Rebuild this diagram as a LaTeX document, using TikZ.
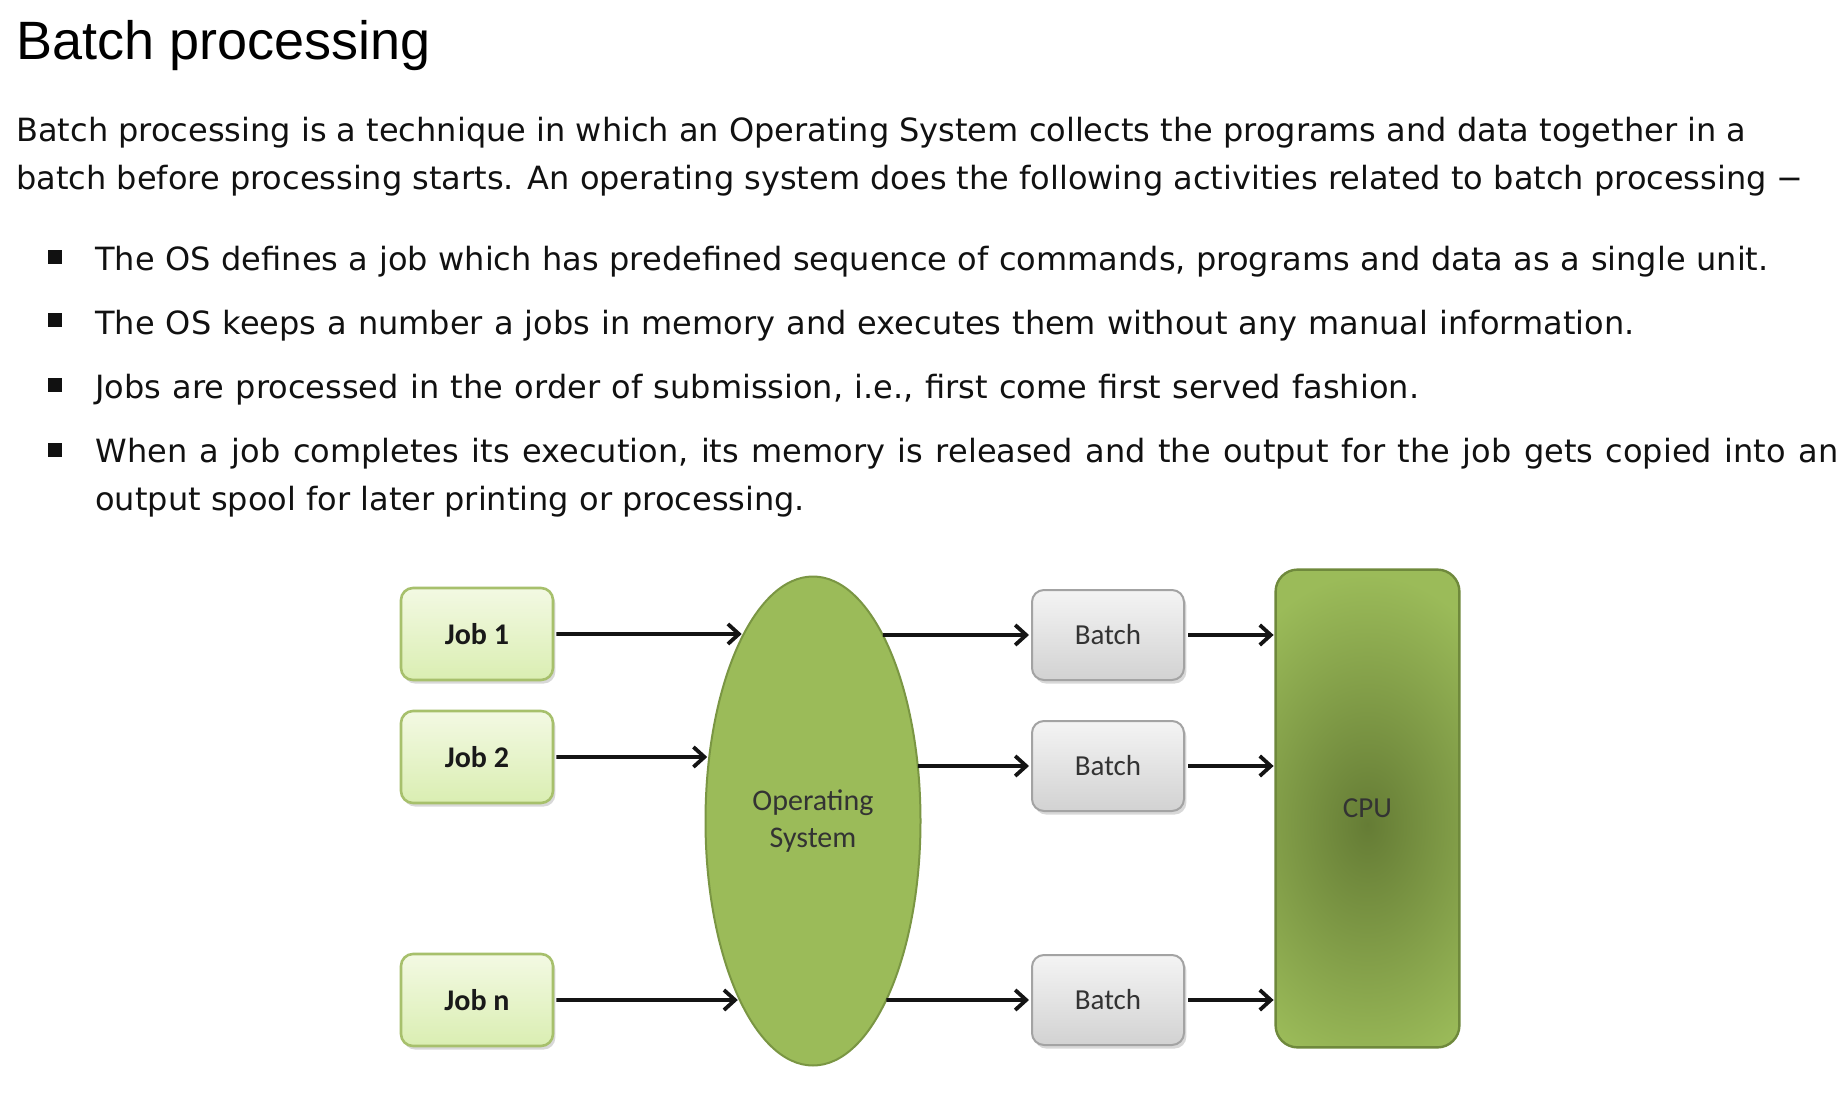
\documentclass[tikz,border=0pt]{standalone}
\usepackage{fontspec}
\setmainfont{DejaVu Sans}
\newfontfamily\headfont{Liberation Sans}
\newfontfamily\diagfont{Carlito}
\usetikzlibrary{shapes.geometric,shadows,arrows.meta,intersections}
\definecolor{jobtop}{HTML}{F3F9E3}
\definecolor{jobbot}{HTML}{DAEEB2}
\definecolor{jobborder}{HTML}{A7C06C}
\definecolor{battop}{HTML}{F4F4F4}
\definecolor{batbot}{HTML}{D2D2D2}
\definecolor{batborder}{HTML}{A3A3A3}
\definecolor{osfill}{HTML}{9BBB59}
\definecolor{osborder}{HTML}{7A9643}
\definecolor{cpuinner}{HTML}{657C35}
\definecolor{cpuouter}{HTML}{9BBB59}
\definecolor{cpuborder}{HTML}{6F893C}
\definecolor{textcol}{HTML}{111111}
\begin{document}
\begin{tikzpicture}[x=0.5pt,y=-0.5pt,
  heading/.style={anchor=base west, inner sep=0pt, text=black, font=\headfont\fontsize{27}{32}\selectfont},
  bodytext/.style={anchor=base west, inner sep=0pt, text=textcol, font=\fontsize{16}{19}\selectfont},
  bulletsq/.style={fill=textcol, draw=none, minimum size=7pt, inner sep=0pt},
  jobbox/.style={draw=jobborder, line width=1.3pt, rounded corners=6pt, top color=jobtop, bottom color=jobbot,
    minimum width=76pt, minimum height=46pt, inner sep=0pt, text=black!90,
    font=\diagfont\bfseries\fontsize{15}{18}\selectfont,
    drop shadow={shadow xshift=1.2pt, shadow yshift=-1.8pt, opacity=0.3}},
  batchbox/.style={draw=batborder, line width=1pt, rounded corners=6pt, top color=battop, bottom color=batbot,
    minimum width=76pt, minimum height=45pt, inner sep=0pt, text=black!80,
    font=\diagfont\fontsize{14.5}{18}\selectfont,
    drop shadow={shadow xshift=1.2pt, shadow yshift=-1.8pt, opacity=0.3}},
  osnode/.style={ellipse, draw=osborder, line width=1pt, fill=osfill, minimum width=107.5pt, minimum height=244.5pt,
    inner sep=0pt, align=center, text=black!80, font=\diagfont\fontsize{15}{18.2}\selectfont},
  cpunode/.style={rounded corners=11pt, fill=cpuouter,
    minimum width=91.5pt, minimum height=238.5pt, inner sep=0pt},
  cpuframe/.style={draw=cpuborder, line width=1.2pt, rounded corners=11pt},
  cpulab/.style={text=black!80, font=\diagfont\fontsize{14.5}{18}\selectfont},
  arr/.style={line width=1.9pt, draw=black!92, -{Straight Barb[length=5.5pt, width=10pt, line width=1.9pt]}}
]
\useasboundingbox[fill=white] (0,0) rectangle (1844,1108);

% text
\node[heading] (title) at (16,59) {Batch processing};
\node[bodytext] (p1) at (16,141) {Batch processing is a technique in which an Operating System collects the programs and data together in a};
\node[bodytext] (p2) at (16,189) {batch before processing starts. An operating system does the following activities related to batch processing −};

\node[bulletsq] (s1) at (55,256.5) {};
\node[bulletsq] (s2) at (55,320) {};
\node[bulletsq] (s3) at (55,385) {};
\node[bulletsq] (s4) at (55,449.5) {};
\node[bodytext] (t1) at (95,270) {\spaceskip=5.3pt The OS defines a job which has predefined sequence of commands, programs and data as a single unit.};
\node[bodytext] (t2) at (95,334) {\spaceskip=5.55pt The OS keeps a number a jobs in memory and executes them without any manual information.};
\node[bodytext] (t3) at (95,398) {\spaceskip=5.7pt Jobs are processed in the order of submission, i.e., first come first served fashion.};
\node[bodytext] (t4) at (95,462) {\spaceskip=6.25pt When a job completes its execution, its memory is released and the output for the job gets copied into an};
\node[bodytext] (t5) at (95,510) {output spool for later printing or processing.};

% diagram
\node[jobbox] (job1) at (477,634) {Job 1};
\node[jobbox] (job2) at (477,757) {Job 2};
\node[jobbox] (jobn) at (477,1000) {Job n};
\node[osnode] (os) at (813,821) {Operating\\System};
\node[batchbox] (bat1) at (1108,635) {Batch};
\node[batchbox] (bat2) at (1108,766) {Batch};
\node[batchbox] (bat3) at (1108,1000) {Batch};
\node[cpunode] (cpu) at (1367.5,808.5) {};
\begin{scope}
  \clip[rounded corners=11pt] (cpu.north west) rectangle (cpu.south east);
  \shade[inner color=cpuinner, outer color=cpuouter] ([yshift=-8pt]cpu.center) ellipse [x radius=85pt, y radius=125pt];
\end{scope}
\draw[cpuframe] (cpu.north west) rectangle (cpu.south east);
\node[cpulab] (cpulabel) at (cpu.center) {CPU};

\path[name path=osp] (os.center) ellipse [x radius=53.75pt, y radius=122.25pt];
\path[name path=l1] (job1.east) -- ++(500,0);
\path[name path=l2] (job2.east) -- ++(500,0);
\path[name path=l3] (jobn.east) -- ++(500,0);
\path[name path=r1] (bat1.west) -- ++(-500,0);
\path[name path=r2] (bat2.west) -- ++(-500,0);
\path[name path=r3] (bat3.west) -- ++(-500,0);
\path[name intersections={of=l1 and osp, sort by=l1, name=ia}];
\path[name intersections={of=l2 and osp, sort by=l2, name=ib}];
\path[name intersections={of=l3 and osp, sort by=l3, name=ic}];
\path[name intersections={of=r1 and osp, sort by=r1, name=oa}];
\path[name intersections={of=r2 and osp, sort by=r2, name=ob}];
\path[name intersections={of=r3 and osp, sort by=r3, name=oc}];
\coordinate (in1) at (ia-1);
\coordinate (in2) at (ib-1);
\coordinate (in3) at (ic-1);
\coordinate (out1) at (oa-1);
\coordinate (out2) at (ob-1);
\coordinate (out3) at (oc-1);

\draw[arr, shorten <=1pt, shorten >=1pt] (job1.east) -- (in1);
\draw[arr, shorten <=1pt, shorten >=1pt] (job2.east) -- (in2);
\draw[arr, shorten <=1pt, shorten >=1pt] (jobn.east) -- (in3);
\draw[arr, shorten >=1pt] (out1) -- (bat1.west);
\draw[arr, shorten >=1pt] (out2) -- (bat2.west);
\draw[arr, shorten >=1pt] (out3) -- (bat3.west);
\draw[arr, shorten <=1.5pt, shorten >=1pt] (bat1.east) -- (bat1.east -| cpu.west);
\draw[arr, shorten <=1.5pt, shorten >=1pt] (bat2.east) -- (bat2.east -| cpu.west);
\draw[arr, shorten <=1.5pt, shorten >=1pt] (bat3.east) -- (bat3.east -| cpu.west);
\end{tikzpicture}
\end{document}
